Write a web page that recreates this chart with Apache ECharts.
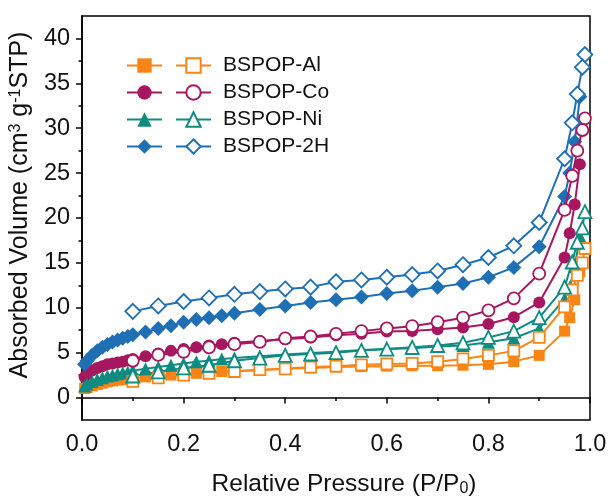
<!DOCTYPE html>
<html>
<head>
<meta charset="utf-8">
<script src="https://cdn.jsdelivr.net/npm/echarts@6/dist/echarts.min.js"></script>
<style>
html,body{margin:0;padding:0;background:#fff;}
#chart{width:611px;height:502px;}
</style>
</head>
<body>
<div id="chart"></div>
<script>
// ---- data ----
const adsP = [0.005,0.01,0.02,0.03,0.04,0.05,0.06,0.07,0.08,0.09,0.1,0.125,0.15,0.175,0.2,0.225,0.25,0.275,0.3,0.35,0.4,0.45,0.5,0.55,0.6,0.65,0.7,0.75,0.8,0.85,0.9,0.95,0.96,0.97,0.98];
const desP = [0.99,0.985,0.975,0.965,0.95,0.9,0.85,0.8,0.75,0.7,0.65,0.6,0.55,0.5,0.45,0.4,0.35,0.3,0.25,0.2,0.15,0.1];

const alAds = [1.0,1.1,1.3,1.45,1.6,1.75,1.85,1.95,2.0,2.1,2.15, 2.3,2.4,2.5,2.6,2.7,2.8,2.9,2.95, 3.05,3.2,3.3,3.4,3.45,3.5,3.55,3.55,3.6,3.7,4.0,4.7, 7.4,8.9,10.9,14.0];
const alDes = [16.6,15.0,13.6,12.0,10.1,6.7,5.2,4.7,4.3,4.0,3.8,3.75,3.65,3.5,3.4,3.2,3.1,2.9,2.7,2.5,2.2,1.8];
const coAds = [2.3,2.6,3.0,3.3,3.5,3.7,3.8,3.9,4.0,4.15,4.3, 4.6,4.9,5.2,5.4,5.6,5.8,5.95,6.1, 6.3,6.5,6.7,6.95,7.1,7.35,7.4,7.6,7.8,8.2,8.95,10.6, 15.6,18.3,21.5,26.0];
const coDes = [31.1,29.8,27.5,24.7,20.9,13.8,11.05,9.7,8.9,8.4,7.95,7.7,7.4,7.1,6.8,6.6,6.2,5.95,5.6,5.1,4.75,4.1];
const niAds = [1.3,1.5,1.8,2.0,2.2,2.4,2.5,2.65,2.75,2.85,3.0, 3.2,3.4,3.6,3.8,4.0,4.1,4.3,4.4, 4.6,4.8,4.95,5.1,5.3,5.4,5.5,5.7,5.8,6.15,6.6,7.7, 11.0,12.3,14.6,18.0];
const niDes = [20.7,18.9,17.3,15.1,12.3,8.9,7.4,6.7,6.1,5.8,5.6,5.4,5.25,5.0,4.85,4.7,4.4,4.1,3.6,3.3,2.85,2.4];
const h2Ads = [3.7,4.1,4.7,5.2,5.6,5.9,6.2,6.4,6.6,6.8,7.0, 7.3,7.7,8.0,8.4,8.7,8.9,9.1,9.4, 9.8,10.2,10.6,10.9,11.2,11.6,11.9,12.3,12.7,13.4,14.5,16.8, 22.4,25.0,28.5,33.5];
const h2Des = [38.2,36.8,33.8,30.6,26.6,19.5,16.9,15.6,14.8,14.1,13.7,13.4,13.1,12.9,12.3,12.1,11.8,11.5,11.1,10.7,10.2,9.6];

const names = ['BSPOP-Al','BSPOP-Co','BSPOP-Ni','BSPOP-2H'];
const yTicks = [0,5,10,15,20,25,30,35,40];
const yMinorTicks = [2.5,7.5,12.5,17.5,22.5,27.5,32.5,37.5];

// ---- styles ----
const colors = ['#FA8414','#A6175F','#0F8C80','#1F6FB4'];
const symbols = ['rect','circle','triangle','diamond'];
const symSizes = [11,12,13,15];
const FONT = 'Liberation Sans, Arial, sans-serif';

const adsSets = [alAds, coAds, niAds, h2Ads];
const desSets = [alDes, coDes, niDes, h2Des];

const series = [];
for (let i = 0; i < 4; i++) {
  series.push({
    name: names[i] + ' ads',
    type: 'line',
    data: adsP.map((p, k) => [p, adsSets[i][k]]),
    symbol: symbols[i],
    symbolSize: symSizes[i],
    showAllSymbol: true,
    lineStyle: { color: colors[i], width: 2 },
    itemStyle: { color: colors[i], borderColor: colors[i], borderWidth: 0 },
    z: 2
  });
  series.push({
    name: names[i],
    type: 'line',
    data: desP.map((p, k) => [p, desSets[i][k]]),
    symbol: symbols[i],
    symbolSize: symSizes[i],
    showAllSymbol: true,
    lineStyle: { color: colors[i], width: 2 },
    itemStyle: { color: '#ffffff', borderColor: colors[i], borderWidth: 1.8 },
    z: 3
  });
}

const legendText = { fontFamily: FONT, fontSize: 21, color: '#111', lineHeight: 21 };

const option = {
  animation: false,
  backgroundColor: '#fff',
  grid: { left: 80, right: 21, top: 16, bottom: 77, show: true, borderColor: '#000', borderWidth: 1.5 },
  legend: [
    {
      data: names.map(n => n + ' ads'),
      orient: 'vertical', left: 121, top: 50,
      itemWidth: 35, itemHeight: 18, itemGap: 6,
      formatter: () => ' ',
      textStyle: legendText,
      selectedMode: false
    },
    {
      data: names,
      orient: 'vertical', left: 170, top: 50,
      itemWidth: 35, itemHeight: 18, itemGap: 6,
      textStyle: Object.assign({ padding: [0, 0, 0, 7] }, legendText),
      selectedMode: false
    }
  ],
  xAxis: {
    type: 'value', min: 0, max: 1, interval: 0.2,
    name: 'Relative Pressure (P/P{sub|0})',
    nameLocation: 'middle', nameGap: 52,
    nameTextStyle: { fontFamily: FONT, fontSize: 24.5, color: '#111', padding: [0, 0, 0, 16],
      rich: { sub: { fontFamily: FONT, fontSize: 16, color: '#111', verticalAlign: 'bottom', lineHeight: 8 } } },
    axisLine: { show: true, lineStyle: { color: '#000', width: 1.6 } },
    axisTick: { show: true, inside: false, length: 6, lineStyle: { color: '#000', width: 1.5 } },
    minorTick: { show: true, splitNumber: 2, length: 3.5, lineStyle: { color: '#000', width: 1.5 } },
    axisLabel: { fontFamily: FONT, fontSize: 23.5, color: '#111', margin: 13, formatter: v => v.toFixed(1),
      showMinLabel: true, showMaxLabel: true },
    splitLine: { show: false }
  },
  yAxis: [
    {
      type: 'value', min: -2.5, max: 42.5,
      name: 'Absorbed Volume (cm{sup|3} g{sup|-1}STP)',
      nameLocation: 'middle', nameGap: 37, nameRotate: 90,
      nameTextStyle: { fontFamily: FONT, fontSize: 25, color: '#111', padding: [0, 0, 0, 26],
        rich: { sup: { fontFamily: FONT, fontSize: 16, color: '#111', verticalAlign: 'top', lineHeight: 8 } } },
      axisLine: { show: true, lineStyle: { color: '#000', width: 1.6 } },
      axisTick: { show: true, inside: false, length: 6, customValues: yTicks, lineStyle: { color: '#000', width: 1.5 } },
      axisLabel: { fontFamily: FONT, fontSize: 23.5, color: '#111', margin: 12, customValues: yTicks },
      splitLine: { show: false }
    },
    {
      type: 'value', min: -2.5, max: 42.5, position: 'left', offset: 0,
      axisLine: { show: false },
      axisTick: { show: true, inside: false, length: 3.5, customValues: yMinorTicks, lineStyle: { color: '#000', width: 1.5 } },
      axisLabel: { show: false },
      splitLine: { show: false }
    }
  ],
  series: series
};

const chart = echarts.init(document.getElementById('chart'), null, { renderer: 'canvas' });
chart.setOption(option);
</script>
</body>
</html>
